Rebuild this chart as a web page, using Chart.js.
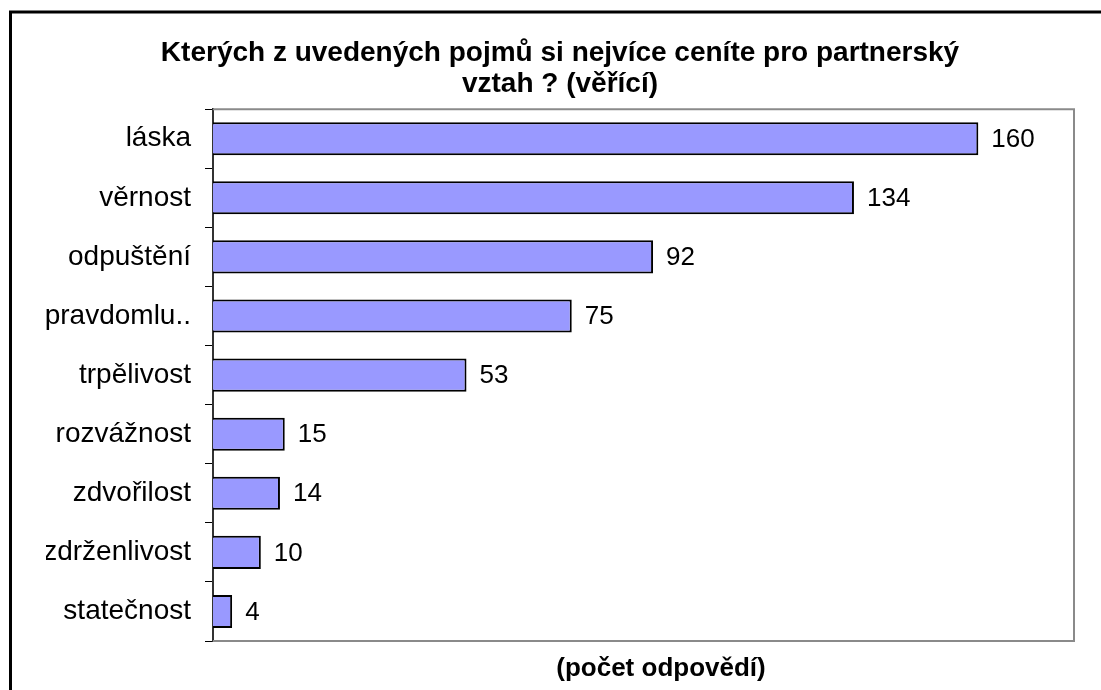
<!DOCTYPE html>
<html>
<head>
<meta charset="utf-8">
<script src="https://cdn.jsdelivr.net/npm/chart.js@4/dist/chart.umd.min.js"></script>
<style>
  html, body { margin: 0; padding: 0; background: #ffffff; }
  #wrap { width: 1101px; height: 690px; position: relative; }
</style>
</head>
<body>
<div id="wrap"><canvas id="c" width="1101" height="690"></canvas></div>
<script>
const categories = ["láska", "věrnost", "odpuštění", "pravdomlu..", "trpělivost", "rozvážnost", "zdvořilost", "zdrženlivost", "statečnost"];
const values = [160, 134, 92, 75, 53, 15, 14, 10, 4];
const titleLines = ["Kterých z uvedených pojmů si nejvíce ceníte pro partnerský", "vztah ? (věřící)"];
const axisTitle = "(počet odpovědí)";
const xMax = 180;

const FONT = "'Liberation Sans', Arial, sans-serif";

const framePlugin = {
  id: 'frame',
  beforeDraw(chart) {
    const ctx = chart.ctx;
    ctx.save();
    ctx.fillStyle = '#ffffff';
    ctx.fillRect(0, 0, chart.width, chart.height);
    ctx.strokeStyle = '#000000';
    ctx.lineWidth = 3;
    ctx.beginPath();
    ctx.moveTo(10.5, chart.height + 5);
    ctx.lineTo(10.5, 12);
    ctx.lineTo(chart.width + 5, 12);
    ctx.stroke();
    ctx.restore();
  },
  beforeDatasetsDraw(chart) {
    const a = chart.chartArea;
    const ctx = chart.ctx;
    ctx.save();
    ctx.strokeStyle = '#8a8a8a';
    ctx.lineWidth = 2;
    ctx.beginPath();
    ctx.moveTo(a.left, a.top);
    ctx.lineTo(a.right, a.top);
    ctx.lineTo(a.right, a.bottom);
    ctx.lineTo(a.left, a.bottom);
    ctx.stroke();
    ctx.restore();
  },
  afterDatasetsDraw(chart) {
    const ctx = chart.ctx;
    const meta = chart.getDatasetMeta(0);
    ctx.save();
    ctx.fillStyle = '#000000';
    ctx.font = "26px " + FONT;
    ctx.textAlign = 'left';
    ctx.textBaseline = 'middle';
    meta.data.forEach((bar, i) => {
      ctx.fillText(String(chart.data.datasets[0].data[i]), bar.x + 13, bar.y + 1);
    });
    ctx.font = "bold 26px " + FONT;
    ctx.textAlign = 'center';
    ctx.textBaseline = 'alphabetic';
    ctx.fillText(axisTitle, 661, 676);
    ctx.restore();
  }
};

new Chart(document.getElementById('c'), {
  type: 'bar',
  data: {
    labels: categories,
    datasets: [{
      data: values,
      backgroundColor: '#9999ff',
      borderColor: '#000000',
      borderWidth: 2,
      categoryPercentage: 1.0,
      barPercentage: 0.56
    }]
  },
  options: {
    indexAxis: 'y',
    responsive: false,
    animation: false,
    devicePixelRatio: 1,
    layout: { padding: { left: 46, right: 27, top: 0, bottom: 49 } },
    plugins: {
      legend: { display: false },
      tooltip: { enabled: false },
      title: {
        display: true,
        text: titleLines,
        color: '#000000',
        font: { family: FONT, size: 28, weight: 'bold', lineHeight: 1.11 },
        padding: { top: 38, bottom: 9 }
      }
    },
    scales: {
      x: {
        display: false,
        min: 0,
        max: xMax
      },
      y: {
        afterFit(scale) { scale.width = 167; },
        grid: {
          display: true,
          drawOnChartArea: false,
          drawTicks: true,
          tickLength: 8,
          color: '#000000',
          lineWidth: 1
        },
        border: { display: true, color: '#333333', width: 2 },
        ticks: {
          color: '#000000',
          padding: 14,
          font: { family: FONT, size: 28 },
          autoSkip: false
        }
      }
    }
  },
  plugins: [framePlugin]
});
</script>
</body>
</html>
